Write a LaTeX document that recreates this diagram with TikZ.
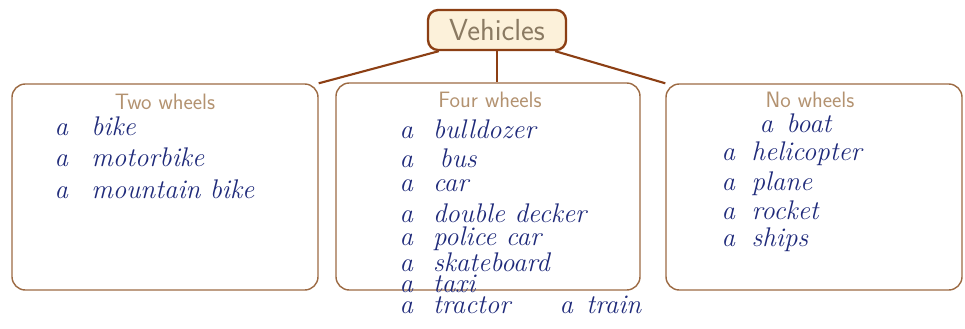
\documentclass[tikz,border=0pt]{standalone}
\usepackage{tikz}
\usepackage{xcolor}
\usetikzlibrary{calc}

\definecolor{vehbrown}{HTML}{8C3F14}
\definecolor{boxbrown}{HTML}{9C6A43}
\definecolor{cream}{HTML}{FCF1DA}
\definecolor{titletan}{HTML}{B39270}
\definecolor{vehtext}{HTML}{8A7A62}
\definecolor{ink}{HTML}{1F2A7A}

\begin{document}
\begin{tikzpicture}[x=0.3mm,y=-0.3mm]
        \tikzstyle{group}=[draw=boxbrown,line width=1.2pt,rounded corners=4mm,inner sep=0pt]
        \tikzstyle{title}=[text=titletan,font=\sffamily\fontsize{19}{21}\selectfont,inner sep=0pt]
        \tikzstyle{item}=[text=ink,font=\itshape\fontsize{23}{25}\selectfont,anchor=west,inner sep=0pt]
        \useasboundingbox (0,0) rectangle (965,328);

            \node[draw=vehbrown,fill=cream,line width=2pt,rounded corners=3mm,minimum width=41.4mm,minimum height=12mm,text=vehtext,font=\sffamily\fontsize{26}{28}\selectfont] (veh) at (497,30) {Vehicles};

            \node[group,minimum width=91.8mm,minimum height=61.8mm] (two) at (165,187) {};
            \node[group,minimum width=91.2mm,minimum height=62.1mm] (four) at (488,186.5) {};
            \node[group,minimum width=88.8mm,minimum height=61.8mm] (none) at (814,187) {};

            \node[title] (T2) at ($(two.north)+(0,19)$) {Two wheels};
            \node[title] (T4) at ($(four.north)+(2,18)$) {Four wheels};
            \node[title] (T0) at ($(none.north)+(-4,17)$) {No wheels};

            \node[item] (2A) at ($(two.north west)+(43,43)$) {a\hspace{7mm}bike};
            \node[item] (2B) at ($(two.north west)+(43,74)$) {a\hspace{7mm}motorbike};
            \node[item] (2C) at ($(two.north west)+(43,106)$) {a\hspace{7mm}mountain bike};

            \node[item] (4A) at ($(four.north west)+(64,47)$) {a\hspace{6mm}bulldozer};
            \node[item] (4B) at ($(four.north west)+(64,76)$) {a\hspace{8mm}bus};
            \node[item] (4C) at ($(four.north west)+(64,103)$) {a\hspace{6mm}car};
            \node[item] (4D) at ($(four.north west)+(64,131)$) {a\hspace{6mm}double decker};
            \node[item] (4E) at ($(four.north west)+(64,156)$) {a\hspace{6mm}police car};
            \node[item] (4F) at ($(four.north west)+(64,180)$) {a\hspace{6mm}skateboard};
            \node[item] (4G) at ($(four.north west)+(64,202)$) {a\hspace{6mm}taxi};
            \node[item] (4H) at ($(four.north west)+(64,223)$) {a\hspace{6mm}tractor};
            \node[item] (4I) at ($(four.north west)+(224,223)$) {a\hspace{4mm}train};

            \node[item] (0A) at ($(none.north west)+(94,40)$) {a\hspace{4mm}boat};
            \node[item] (0B) at ($(none.north west)+(56,70)$) {a\hspace{5mm}helicopter};
            \node[item] (0C) at ($(none.north west)+(56,100)$) {a\hspace{5mm}plane};
            \node[item] (0D) at ($(none.north west)+(56,127)$) {a\hspace{5mm}rocket};
            \node[item] (0E) at ($(none.north west)+(56,156)$) {a\hspace{5mm}ships};

            \draw[vehbrown,line width=1.8pt] (veh.200) -- (two.north east);
            \draw[vehbrown,line width=1.8pt] (veh.south) -- (veh.south |- four.north);
            \draw[vehbrown,line width=1.8pt] (veh.-20) -- (none.north west);

        \end{tikzpicture}
\end{document}
